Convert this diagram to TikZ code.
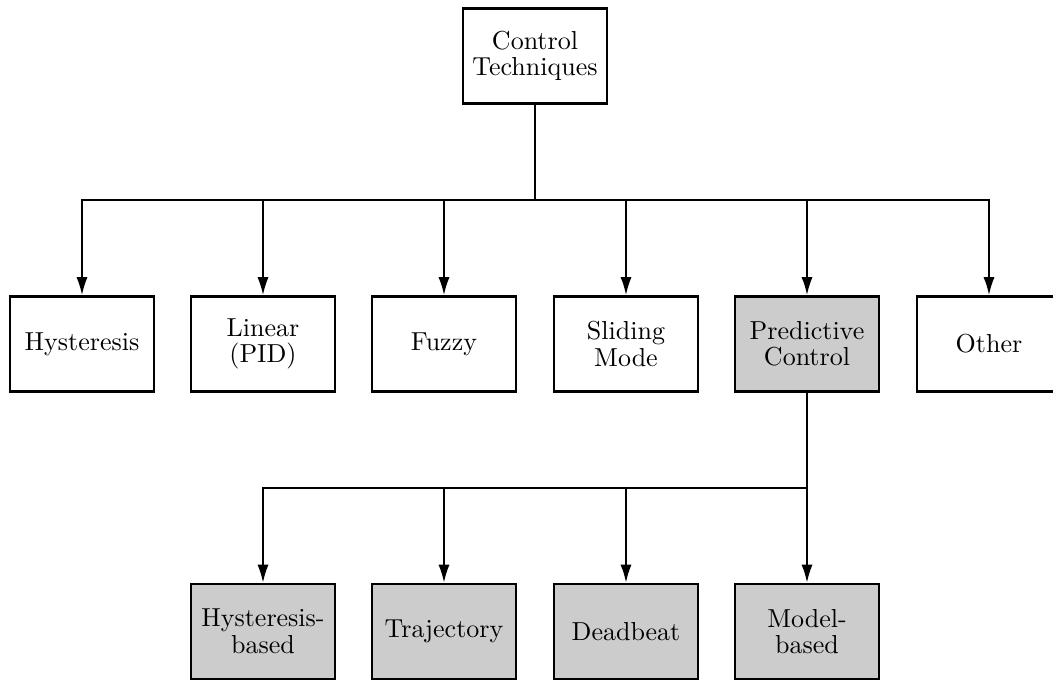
\documentclass[tikz,border=0pt]{standalone}
\usetikzlibrary{arrows.meta}
\begin{document}
\begin{tikzpicture}[x=0.3846pt,y=-0.3846pt,
  box/.style={draw, line width=0.85pt, minimum width=55.4pt, minimum height=36.6pt,
    align=center, inner sep=0pt, font=\fontsize{10}{10.2}\selectfont},
  pbox/.style={box, fill=black!20},
  conn/.style={line width=0.8pt},
  bus/.style={conn, line cap=rect},
  arr/.style={conn, -{Latex[length=7pt,width=4.3pt]}}]
\useasboundingbox (0,0) rectangle (1053,681);

\node[box] (top) at (535,56) {Control\\Techniques};

\node[box] (hyst) at (82,344) {Hysteresis};
\node[box] (lin) at (263,344) {Linear\\(PID)};
\node[box] (fuzzy) at (444,344) {Fuzzy};
\node[box] (slide) at (626,344) {Sliding\\Mode};
\node[pbox] (pred) at (807,344) {Predictive\\Control};
\node[box] (other) at (989,344) {Other};

\node[pbox] (hb) at (263,631.5) {Hysteresis-\\based};
\node[pbox] (traj) at (444,631.5) {Trajectory};
\node[pbox] (dead) at (626,631.5) {Deadbeat};
\node[pbox] (mb) at (807,631.5) {Model-\\based};

\coordinate (bt) at (535,200);
\coordinate (b1) at (82,200);
\coordinate (b2) at (263,200);
\coordinate (b3) at (444,200);
\coordinate (b4) at (626,200);
\coordinate (b5) at (807,200);
\coordinate (b6) at (989,200);

\coordinate (c1) at (263,488);
\coordinate (c2) at (444,488);
\coordinate (c3) at (626,488);
\coordinate (c4) at (807,488);

\draw[conn] (top.south) -- (bt);
\draw[bus] (b1) -- (b6);
\draw[arr] (b1) -- (hyst);
\draw[arr] (b2) -- (lin);
\draw[arr] (b3) -- (fuzzy);
\draw[arr] (b4) -- (slide);
\draw[arr] (b5) -- (pred);
\draw[arr] (b6) -- (other);

\draw[conn] (pred.south) -- (c4);
\draw[bus] (c1) -- (c4);
\draw[arr] (c1) -- (hb);
\draw[arr] (c2) -- (traj);
\draw[arr] (c3) -- (dead);
\draw[arr] (c4) -- (mb);
\end{tikzpicture}
\end{document}
